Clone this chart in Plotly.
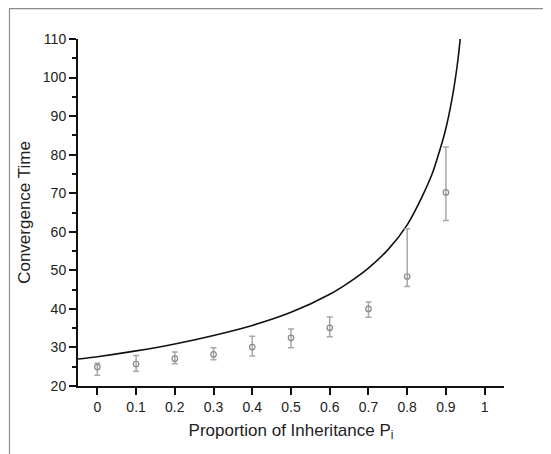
import plotly.graph_objects as go

p_points = [0, 0.1, 0.2, 0.3, 0.4, 0.5, 0.6, 0.7, 0.8, 0.9]
time_mean = [24.9, 25.7, 27.1, 28.2, 30.1, 32.5, 35.1, 40.0, 48.4, 70.2]
err_plus = [1.0, 2.2, 1.7, 1.7, 2.8, 2.3, 2.8, 1.8, 12.4, 11.8]
err_minus = [2.1, 1.9, 1.3, 1.4, 2.3, 2.6, 2.3, 2.2, 2.6, 7.3]

# Theoretical curve
p_curve = [-0.05, 0, 0.1, 0.2, 0.3, 0.4, 0.5, 0.6, 0.65, 0.7, 0.75, 0.8, 0.838,
           0.864, 0.881, 0.898, 0.916, 0.929, 0.937]
time_curve = [27.0, 27.6, 29.1, 30.9, 33.1, 35.7, 39.1, 43.8, 46.9, 50.6, 55.3, 61.8, 69.0,
              74.9, 80.1, 86.0, 94.6, 103.0, 110.0]

x_ticks = [0, 0.1, 0.2, 0.3, 0.4, 0.5, 0.6, 0.7, 0.8, 0.9, 1]
x_ticklabels = ["0", "0.1", "0.2", "0.3", "0.4", "0.5", "0.6", "0.7", "0.8", "0.9", "1"]
y_ticks = [20, 30, 40, 50, 60, 70, 80, 90, 100, 110]

# the page body has an 8px margin, so the figure is drawn 8px in from top-left
OFF = 8
W, H = 551 - OFF, 454 - OFF
ML, MR, MT, MB = 78 - OFF, 47, 39 - OFF, 68

fig = go.Figure()
fig.add_trace(go.Scatter(
    x=p_curve, y=time_curve, mode="lines",
    line=dict(color="#111111", width=1.6, shape="spline", smoothing=1.0),
    showlegend=False, hoverinfo="skip"))
fig.add_trace(go.Scatter(
    x=p_points, y=time_mean, mode="markers",
    marker=dict(symbol="circle-open", size=5.5, color="#8a8a8a", line=dict(width=1.2)),
    error_y=dict(type="data", symmetric=False, array=err_plus, arrayminus=err_minus,
                 color="#a8a8a8", thickness=1.5, width=3),
    showlegend=False))

pw = W - ML - MR
ph = H - MT - MB
def fx(px):
    # figure-pixel x -> paper x
    return (px - ML) / pw
def fy(py):
    # figure-pixel y -> paper y
    return (H - MB - py) / ph

shapes = [
    dict(type="line", xref="paper", yref="paper",
         x0=fx(1), x1=fx(W + 5), y0=fy(0.5), y1=fy(0.5),
         line=dict(color="#8c8c8c", width=1.5)),
    dict(type="line", xref="paper", yref="paper",
         x0=fx(1.5), x1=fx(1.5), y0=fy(0), y1=fy(H + 5),
         line=dict(color="#8c8c8c", width=1.2)),
]

fig.update_layout(
    width=W, height=H,
    margin=dict(l=ML, r=MR, t=MT, b=MB),
    paper_bgcolor="white", plot_bgcolor="white",
    font=dict(family="Liberation Sans, Arial, sans-serif", color="#222222"),
    shapes=shapes,
    xaxis=dict(
        range=[-0.05, 1.05], tickvals=x_ticks, ticktext=x_ticklabels,
        showgrid=False, zeroline=False, showline=True, linecolor="#111111", linewidth=2,
        ticks="outside", ticklen=7, tickwidth=1.5, tickcolor="#111111",
        tickfont=dict(size=14),
        title=dict(text="Proportion of Inheritance P<sub>i</sub>", font=dict(size=17), standoff=10),
    ),
    yaxis=dict(
        range=[20, 110], tickvals=y_ticks,
        showgrid=False, zeroline=False, showline=True, linecolor="#111111", linewidth=2,
        ticks="outside", ticklen=7, tickwidth=1.5, tickcolor="#111111",
        tickfont=dict(size=14),
        minor=dict(dtick=5, ticks="outside", ticklen=4, tickwidth=1.5, tickcolor="#111111", showgrid=False),
        title=dict(text="Convergence Time", font=dict(size=17), standoff=8),
    ),
)

fig.write_html("out.html")
